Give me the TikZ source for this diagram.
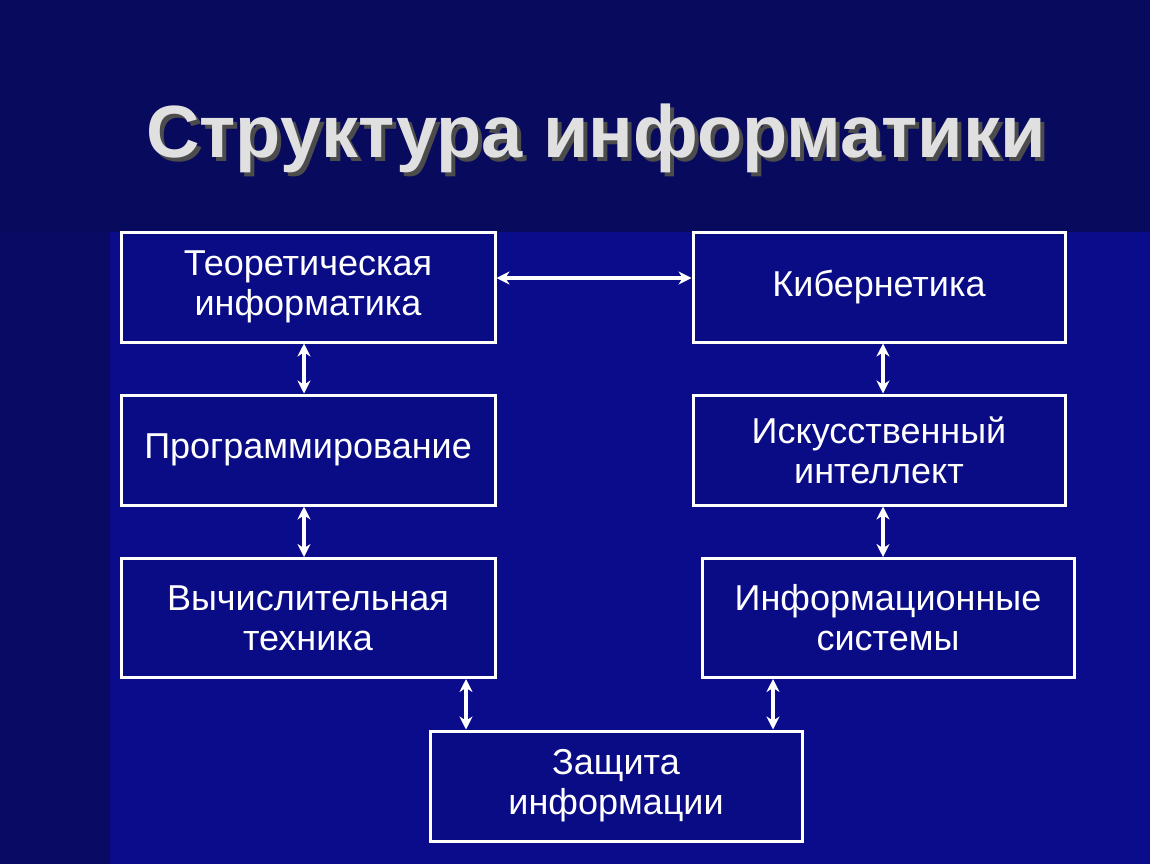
\documentclass[tikz,border=0pt]{standalone}
\usepackage{fontspec}
\usetikzlibrary{arrows.meta}
\setmainfont{Liberation Sans}
\begin{document}
\begin{tikzpicture}[x=1pt,y=-1pt,
  box/.style={draw=white,line width=3pt,fill=boxc,text=white,font=\fontsize{36}{40}\selectfont,align=center,inner sep=0pt},
  link/.style={white,line width=3.5pt,<->,>={Stealth[length=13pt,width=13pt]}}]
\definecolor{bgc}{HTML}{0A0C8C}
\definecolor{topc}{HTML}{080A5E}
\definecolor{boxc}{HTML}{0A0C86}
\useasboundingbox (0,0) rectangle (1150,864);
\fill[bgc] (0,0) rectangle (1150,864);
\fill[topc] (0,0) rectangle (1150,232);
\fill[topc!90!bgc] (0,232) rectangle (110,864);
\node[font=\fontsize{74}{80}\selectfont\bfseries,text=black!70] (shadow) at (600,142) {Структура информатики};
\node[font=\fontsize{74}{80}\selectfont\bfseries,text=black!12] (title) at (596,138) {Структура информатики};
\node[box,minimum width=374pt,minimum height=110pt] (t) at (308,287) {Теоретическая\\информатика};
\node[box,minimum width=372pt,minimum height=110pt] (k) at (879,287) {Кибернетика};
\node[box,minimum width=374pt,minimum height=110pt] (p) at (308,450) {Программирование};
\node[box,minimum width=372pt,minimum height=110pt] (i) at (879,450) {Искусственный\\интеллект};
\node[box,minimum width=374pt,minimum height=119pt] (v) at (308,618) {Вычислительная\\техника};
\node[box,minimum width=372pt,minimum height=119pt] (s) at (888,618) {Информационные\\системы};
\node[box,minimum width=372pt,minimum height=110pt] (z) at (616,786) {Защита\\информации};
\draw[link] (t.east |- 0,278) -- (k.west |- 0,278);
\draw[link] (t.south -| 304,0) -- (p.north -| 304,0);
\draw[link] (p.south -| 304,0) -- (v.north -| 304,0);
\draw[link] (k.south -| 883,0) -- (i.north -| 883,0);
\draw[link] (i.south -| 883,0) -- (s.north -| 883,0);
\draw[link] (v.south -| 466,0) -- (z.north -| 466,0);
\draw[link] (s.south -| 773,0) -- (z.north -| 773,0);
\end{tikzpicture}
\end{document}
